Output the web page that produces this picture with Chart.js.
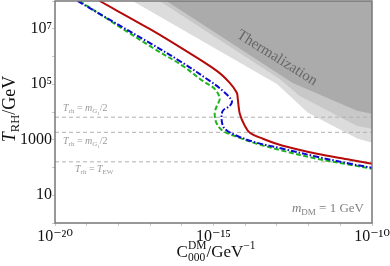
<!DOCTYPE html>
<html>
<head>
<meta charset="utf-8">
<script src="https://cdn.jsdelivr.net/npm/chart.js@4.4.1/dist/chart.umd.min.js"></script>
<style>
  html, body { margin: 0; padding: 0; background: #fff; }
</style>
</head>
<body>
<canvas id="chart" width="390" height="266"></canvas>
<script>
// Courbes (C en GeV^-1, T en GeV)
const redX = [2.55e-19, 9.68e-18, 1.07e-16, 1.27e-15, 3.26e-15, 5.43e-15, 5.83e-15, 6.75e-15, 9.70e-15, 1.40e-14, 3.60e-14, 1.54e-13, 1.83e-12, 2.02e-11, 1e-10];
const redY = [1e8, 9.84e6, 1.87e6, 3.03e5, 1.12e5, 4.91e4, 2.99e4, 8610, 3190, 1790, 1090, 608, 313, 191, 137];

const blueX = [5.14e-20, 9.68e-18, 1.07e-16, 7.62e-16, 1.96e-15, 3.78e-15, 3.26e-15, 1.96e-15, 1.82e-15, 2.26e-15, 5.43e-15, 2.33e-14, 1.54e-13, 1.83e-12, 2.02e-11, 1e-10];
const blueY = [1e8, 3.08e6, 5.89e5, 1.32e5, 5.79e4, 2.53e4, 1.67e4, 1.10e4, 4820, 2490, 1390, 780, 474, 244, 137, 98];

const greenX = [5.94e-20, 9.68e-18, 1.07e-16, 4.57e-16, 1.09e-15, 1.57e-15, 1.27e-15, 1.09e-15, 1.27e-15, 1.96e-15, 5.43e-15, 2.33e-14, 1.54e-13, 1.83e-12, 2.02e-11, 1e-10];
const greenY = [1e8, 2.40e6, 4.59e5, 1.32e5, 6.84e4, 2.99e4, 1.67e4, 8610, 3770, 2110, 1280, 718, 402, 207, 126, 90.6];

// Zones grisées (thermalisation), bord inférieur de chaque zone
const lightX = [2.82e-18, 1e-13, 9.55e-13, 3.39e-11, 1e-10];
const lightY = [1e8, 1.02e5, 9330, 1100, 776];
const midX = [2.00e-17, 1.23e-13, 5.25e-13, 3.39e-11, 1e-10];
const midY = [1e8, 1.55e5, 3.80e4, 3160, 2510];
const darkX = [3.31e-17, 3.16e-13, 3.39e-11, 1e-10];
const darkY = [1e8, 1.12e5, 1.10e4, 8710];

// Lignes horizontales : m_G1/2, m_G1/2, T_EW
const hLines = [6500, 1850, 160];

// Graduations
const xTicks = [1e-20, 1e-19, 1e-18, 1e-17, 1e-16, 1e-15, 1e-14, 1e-13, 1e-12, 1e-11, 1e-10];
const xTickLabels = { '-20': '10⁻²⁰', '-15': '10⁻¹⁵', '-10': '10⁻¹⁰' };
const yTicks = [1, 10, 100, 1000, 1e4, 1e5, 1e6, 1e7, 1e8];
const yTickLabels = { '1': '10', '3': '1000', '5': '10⁵', '7': '10⁷' };

const SERIF = '"Liberation Serif", "DejaVu Serif", serif';

function pts(xs, ys) {
    return xs.map((x, i) => ({ x: x, y: ys[i] }));
}

function band(xs, ys, color, order) {
    return {
        data: pts(xs, ys),
        showLine: true,
        pointRadius: 0,
        borderWidth: 0,
        borderColor: color,
        backgroundColor: color,
        fill: 'end',
        tension: 0,
        order: order
    };
}

function curve(xs, ys, color, dash, order) {
    return {
        data: pts(xs, ys),
        showLine: true,
        pointRadius: 0,
        borderWidth: 2,
        borderColor: color,
        borderDash: dash,
        fill: false,
        tension: 0.35,
        order: order
    };
}

const hLineSets = hLines.map(v => ({
    data: [{ x: 1e-20, y: v }, { x: 1e-10, y: v }],
    showLine: true,
    pointRadius: 0,
    borderWidth: 1,
    borderColor: '#b0b0b0',
    borderDash: [4, 3],
    fill: false,
    order: 3
}));

// Texte avec indices / exposants
function fontOf(p) {
    return (p.i ? 'italic ' : '') + p.s + 'px ' + SERIF;
}
function partWidth(ctx, p) {
    ctx.font = fontOf(p);
    if (p.sup !== undefined) {
        return Math.max(ctx.measureText(p.sup).width, ctx.measureText(p.sub).width);
    }
    return ctx.measureText(p.t).width;
}
function richWidth(ctx, parts) {
    return parts.reduce((w, p) => w + partWidth(ctx, p), 0);
}
function drawRich(ctx, parts, x, y) {
    let cx = x;
    parts.forEach(p => {
        ctx.font = fontOf(p);
        if (p.sup !== undefined) {
            ctx.fillText(p.sup, cx, y - p.up);
            ctx.fillText(p.sub, cx, y + p.down);
        } else {
            ctx.fillText(p.t, cx, y + (p.dy || 0));
        }
        cx += partWidth(ctx, p);
    });
}

const overlay = {
    id: 'overlay',
    afterDatasetsDraw(chart) {
        const ctx = chart.ctx;
        const ys = chart.scales.y;
        const area = chart.chartArea;
        ctx.save();
        ctx.textBaseline = 'alphabetic';
        ctx.textAlign = 'left';

        // étiquettes des lignes pointillées
        ctx.fillStyle = '#9a9a9a';
        const mg = [
            { t: 'T', s: 10, i: true }, { t: 'rh', s: 7, dy: 2 }, { t: ' = ', s: 10 },
            { t: 'm', s: 10, i: true }, { t: 'G', s: 7, i: true, dy: 2 }, { t: '1', s: 5, dy: 3.5 },
            { t: '/2', s: 10 }
        ];
        drawRich(ctx, mg, area.left + 8, ys.getPixelForValue(hLines[0]) - 6);
        drawRich(ctx, mg, area.left + 8, ys.getPixelForValue(hLines[1]) + 12);
        const ew = [
            { t: 'T', s: 10, i: true }, { t: 'rh', s: 7, dy: 2 }, { t: ' = ', s: 10 },
            { t: 'T', s: 10, i: true }, { t: 'EW', s: 7, dy: 2 }
        ];
        drawRich(ctx, ew, area.left + 20, ys.getPixelForValue(hLines[2]) + 10);

        // masse de la matière noire
        ctx.fillStyle = '#808080';
        const mdm = [
            { t: 'm', s: 13, i: true }, { t: 'DM', s: 9, dy: 3 }, { t: ' = 1 GeV', s: 13 }
        ];
        drawRich(ctx, mdm, area.right - 8 - richWidth(ctx, mdm), area.bottom - 11);

        // Thermalization
        ctx.save();
        ctx.translate(277, 58);
        ctx.rotate(32 * Math.PI / 180);
        ctx.font = '15px ' + SERIF;
        ctx.textAlign = 'center';
        ctx.textBaseline = 'middle';
        ctx.fillStyle = '#666';
        ctx.fillText('Thermalization', 0, 0);
        ctx.restore();

        // cadre
        ctx.strokeStyle = '#777';
        ctx.lineWidth = 1.5;
        ctx.strokeRect(area.left, area.top, area.right - area.left, area.bottom - area.top);

        // titres des axes
        ctx.fillStyle = '#111';
        const yTitle = [
            { t: 'T', s: 18, i: true }, { t: 'RH', s: 12.5, dy: 4 }, { t: '/GeV', s: 18 }
        ];
        ctx.save();
        ctx.translate(15, 109);
        ctx.rotate(-Math.PI / 2);
        drawRich(ctx, yTitle, -richWidth(ctx, yTitle) / 2, 0);
        ctx.restore();

        const xTitle = [
            { t: 'C', s: 17 }, { sup: 'DM', sub: '000', s: 11.5, up: 8, down: 4 },
            { t: '/GeV', s: 17 }, { t: '−1', s: 11.5, dy: -8 }
        ];
        drawRich(ctx, xTitle, 216 - richWidth(ctx, xTitle) / 2, 257);
        ctx.restore();
    }
};

const ctx = document.getElementById('chart').getContext('2d');
new Chart(ctx, {
    type: 'scatter',
    data: {
        datasets: [
            curve(redX, redY, '#b40a0a', [], 0),
            curve(blueX, blueY, '#0a0ad2', [6, 2, 1.5, 2], 1),
            curve(greenX, greenY, '#1fb41f', [5, 2.5], 2),
            ...hLineSets,
            band(darkX, darkY, '#ababab', 4),
            band(midX, midY, '#c8c8c8', 5),
            band(lightX, lightY, '#dcdcdc', 6)
        ]
    },
    options: {
        responsive: false,
        animation: false,
        layout: { padding: { left: 0, right: 18, top: 1, bottom: 0 } },
        plugins: {
            legend: { display: false },
            tooltip: { enabled: false }
        },
        scales: {
            x: {
                type: 'logarithmic',
                min: 1e-20,
                max: 1e-10,
                afterBuildTicks: scale => { scale.ticks = xTicks.map(v => ({ value: v })); },
                afterFit: scale => {
                    scale.height = 43;
                    scale.paddingLeft = 0;
                    scale.paddingRight = 0;
                },
                grid: { drawOnChartArea: false, drawTicks: true, tickLength: 3, color: '#c8c8c8' },
                border: { display: false },
                ticks: {
                    autoSkip: false,
                    maxRotation: 0,
                    padding: 1,
                    color: '#111',
                    font: { family: SERIF, size: 16 },
                    callback: v => xTickLabels[String(Math.round(Math.log10(v)))] || ''
                }
            },
            y: {
                type: 'logarithmic',
                min: 1,
                max: 1e8,
                afterBuildTicks: scale => { scale.ticks = yTicks.map(v => ({ value: v })); },
                afterFit: scale => {
                    scale.width = 55;
                    scale.paddingTop = 0;
                    scale.paddingBottom = 0;
                },
                grid: { drawOnChartArea: false, drawTicks: true, tickLength: 3, color: '#c8c8c8' },
                border: { display: false },
                ticks: {
                    autoSkip: false,
                    padding: 0,
                    color: '#111',
                    font: { family: SERIF, size: 16 },
                    callback: v => yTickLabels[String(Math.round(Math.log10(v)))] || ''
                }
            }
        }
    },
    plugins: [overlay]
});
</script>
</body>
</html>
